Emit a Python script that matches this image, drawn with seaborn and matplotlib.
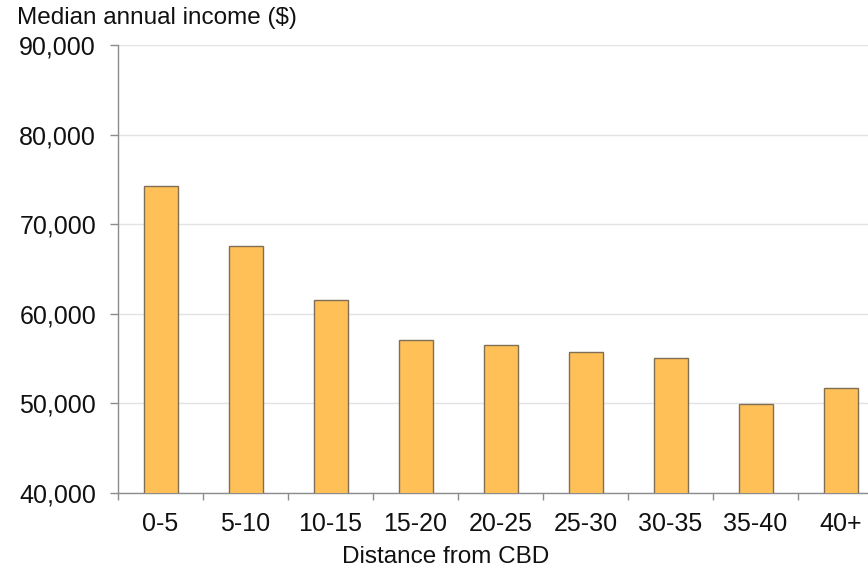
import numpy as np
import pandas as pd
import matplotlib
matplotlib.use('Agg')
import matplotlib.pyplot as plt
import seaborn as sns
from matplotlib.ticker import FuncFormatter, FixedLocator

distance = ['0-5', '5-10', '10-15', '15-20', '20-25', '25-30', '30-35', '35-40', '40+']
income = [74260, 67570, 61540, 57080, 56520, 55740, 55070, 49930, 51720]

df = pd.DataFrame({'distance': distance, 'income': income})

sns.set_style('white')
plt.rcParams['font.family'] = ['Liberation Sans', 'DejaVu Sans']

fig = plt.figure(figsize=(8.68, 5.70), dpi=100)
ax = fig.add_axes([118 / 868, 77 / 570, 765 / 868, 448 / 570])

sns.barplot(data=df, x='distance', y='income', color='#FFC157', width=0.4,
            edgecolor='#7f6f55', linewidth=1.0, saturation=1, ax=ax, zorder=3)

ax.set_xlim(-0.5, len(distance) - 0.5)
ax.set_ylim(40000, 90000)
ax.set_yticks(np.arange(40000, 90001, 10000))
ax.yaxis.set_major_formatter(FuncFormatter(lambda v, p: f'{int(v):,}'))
ax.grid(axis='y', color='#e3e3e3', linewidth=1, zorder=0)
ax.set_axisbelow(True)

for side in ['top', 'right']:
    ax.spines[side].set_visible(False)
for side in ['left', 'bottom']:
    ax.spines[side].set_color('#8c8c8c')
    ax.spines[side].set_linewidth(1)

ax.tick_params(axis='y', which='major', left=True, length=5.8, width=1, color='#8c8c8c',
               labelsize=18, pad=10, labelcolor='#111111')
ax.tick_params(axis='x', which='major', bottom=False, length=0, labelsize=18, pad=13.5,
               labelcolor='#111111')
ax.xaxis.set_minor_locator(FixedLocator(np.arange(-0.5, len(distance), 1.0)))
ax.tick_params(axis='x', which='minor', bottom=True, length=5, width=1, color='#8c8c8c')

ax.set_xlabel('Distance from CBD', fontsize=17.5, color='#111111')
ax.xaxis.set_label_coords((446 - 118) / 765, (493 - 546) / 448)
ax.set_ylabel('')
fig.text(17 / 868, 1 - 18 / 570, 'Median annual income ($)', fontsize=17.5,
         color='#111111', ha='left', va='center')

fig.savefig('out.png', dpi=100)
